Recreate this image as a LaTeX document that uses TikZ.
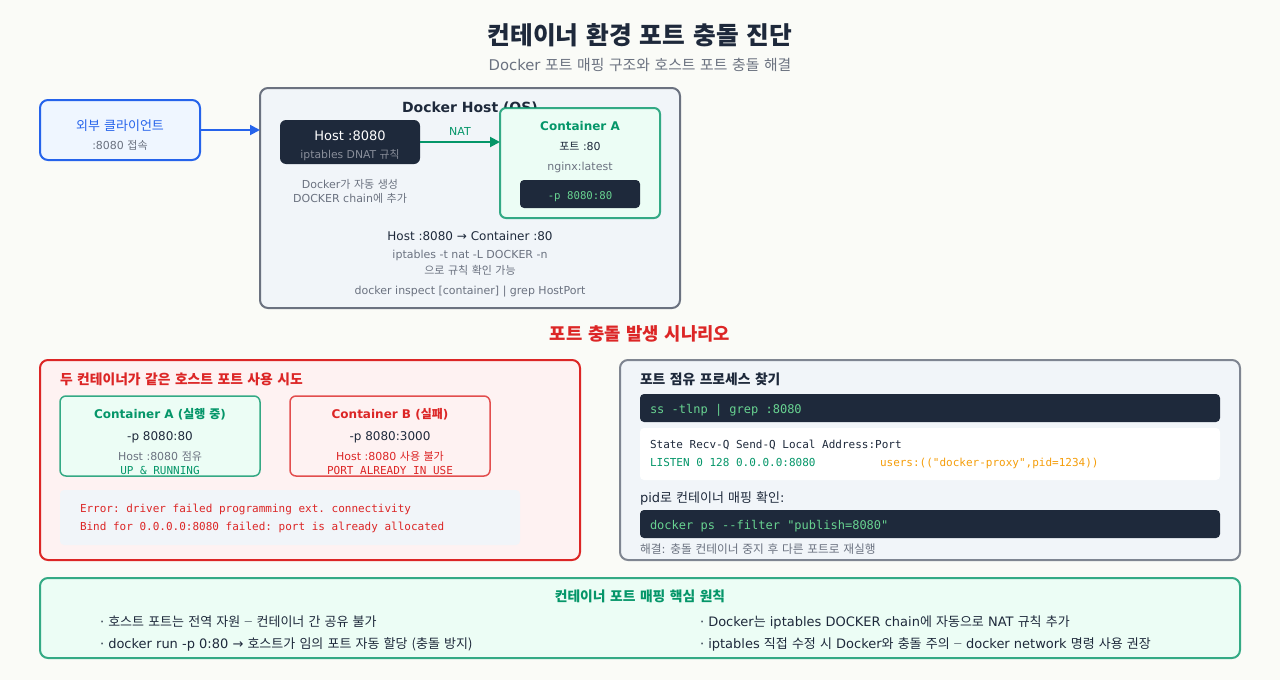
\documentclass[tikz,border=0pt]{standalone}
\usepackage{fontspec}
\usetikzlibrary{arrows.meta}
\setmainfont{DejaVu Sans}
\setmonofont{DejaVu Sans Mono}
\newfontfamily\krfont[WordSpace=1.42]{Noto Sans CJK KR}
\newcommand{\kr}[1]{{\krfont #1}}
\newcommand{\krdash}{\raisebox{1.3pt}{\krfont\fontsize{9}{9}\selectfont —}}

\definecolor{pagebg}{HTML}{FAFBF7}
\definecolor{inkdark}{HTML}{1E293B}
\definecolor{inkgray}{HTML}{6B7280}
\definecolor{slatefill}{HTML}{F1F5F9}
\definecolor{bluefill}{HTML}{EFF6FF}
\definecolor{blueline}{HTML}{2563EB}
\definecolor{greenfill}{HTML}{ECFDF5}
\definecolor{greenline}{HTML}{059669}
\definecolor{redfill}{HTML}{FEF2F2}
\definecolor{redline}{HTML}{DC2626}
\definecolor{codegreen}{HTML}{68D391}
\definecolor{codeorange}{HTML}{F59E0B}

\tikzset{
    sz/.style={font=\fontsize{#1}{#1}\selectfont},
    txt/.style={inner sep=0pt, outer sep=0pt, anchor=base, text=inkdark, sz=#1},
    txtl/.style={txt=#1, anchor=base west},
    bold/.style={font=\fontsize{#1}{#1}\selectfont\bfseries},
    code/.style={inner sep=0pt, outer sep=0pt, anchor=base west, font=\fontsize{#1}{#1}\selectfont\ttfamily},
    panel/.style={rectangle, rounded corners=8pt, line width=2pt, outer sep=0pt, inner sep=0pt},
    card/.style={panel, rounded corners=6pt, line width=1.5pt, draw opacity=0.8},
    dark/.style={rectangle, rounded corners=4pt, fill=inkdark, outer sep=0pt, inner sep=0pt},
    flow/.style={line width=2pt, -{Triangle[length=10pt,width=10pt]}},
}

\begin{document}
\begin{tikzpicture}[x=1pt, y=-1pt]
    \useasboundingbox[fill=pagebg] (0,0) rectangle (1280,680);

    % Titel
    \node[txt=24, bold=24.7] (title) at (640,44) {\kr{컨테이너 환경 포트 충돌 진단}};
    \node[txt=14.8, text=inkgray] (subtitle) at (640,70) {Docker \kr{포트 매핑 구조와 호스트 포트 충돌 해결}};

    % Client
    \node[panel, draw=blueline, fill=bluefill, minimum width=160pt, minimum height=60pt] (client) at (120,130) {};
    \node[txt=13, text=blueline] (clientname) at (120,130) {\kr{외부 클라이언트}};
    \node[txt=11, text=inkgray] (clientport) at (120,149) {:8080 \kr{접속}};

    % Docker Host
    \node[panel, draw=inkgray, fill=slatefill, minimum width=420pt, minimum height=220pt] (dockerhost) at (470,198) {};
    \node[txt=14, bold=14] (hostname) at (470,112) {Docker Host (OS)};
    \node[dark, rounded corners=6pt, minimum width=140pt, minimum height=44pt] (hostport) at (350,142) {};
    \node[txt=13, text=white] (hostporta) at (350,140) {Host :8080};
    \node[txt=10.8, text=inkgray!80!white] (hostportb) at (350,158) {iptables DNAT \kr{규칙}};
    \node[txt=11, text=inkgray] (autoa) at (350,188) {Docker\kr{가 자동 생성}};
    \node[txt=11, text=inkgray] (autob) at (350,202) {DOCKER chain\kr{에 추가}};

    % Container A
    \node[panel, rounded corners=6pt, draw=greenline, draw opacity=0.8, fill=greenfill, minimum width=160pt, minimum height=110pt] (containera) at (580,163) {};
    \node[txt=12, text=greenline, bold=12] (containeraname) at (580,130) {Container A};
    \node[txt=11] (containeraport) at (580,150) {\kr{포트} :80};
    \node[txt=11, text=inkgray] (containeraimg) at (580,170) {nginx:latest};
    \node[dark, minimum width=120pt, minimum height=28pt] (containeracmd) at (580,194) {};
    \node[code=10.7, anchor=base, text=codegreen] (containeracmdt) at (580,199) {-p 8080:80};

    % Verbindungen
    \draw[flow, blueline] (client.east) -- (client.east -| dockerhost.west);
    \draw[flow, greenline] (hostport.east) -- (hostport.east -| containera.west);
    \node[txt=11, text=greenline] (natlabel) at (460,135) {NAT};

    \node[txt=12] (mapping) at (470,240) {Host :8080 → Container :80};
    \node[txt=11, text=inkgray] (rulea) at (470,258) {iptables -t nat -L DOCKER -n};
    \node[txt=11, text=inkgray] (ruleb) at (470,274) {\kr{으로 규칙 확인 가능}};
    \node[txt=11, text=inkgray] (inspect) at (470,294) {docker inspect [container] | grep HostPort};

    % Szenario
    \node[txt=18, text=redline, bold=17.7] (scenario) at (640,340) {\kr{포트 충돌 발생 시나리오}};

    \node[panel, draw=redline, fill=redfill, minimum width=540pt, minimum height=200pt] (conflict) at (310,460) {};
    \node[txtl=13, text=redline, bold=13.8] (conflicttitle) at (60,384) {\kr{두 컨테이너가 같은 호스트 포트 사용 시도}};

    \node[card, draw=greenline, fill=greenfill, minimum width=200pt, minimum height=80pt] (runa) at (160,436) {};
    \node[txt=12, text=greenline, bold=12] (runaname) at (160,418) {Container A (\kr{실행 중})};
    \node[txt=12] (runacmd) at (160,440) {-p 8080:80};
    \node[txt=11, text=inkgray] (runanote) at (160,460) {Host :8080 \kr{점유}};
    \node[code=11, anchor=base, text=greenline] (runastate) at (160,474) {UP \& RUNNING};

    \node[card, draw=redline, fill=redfill, minimum width=200pt, minimum height=80pt] (runb) at (390,436) {};
    \node[txt=12, text=redline, bold=12] (runbname) at (390,418) {Container B (\kr{실패})};
    \node[txt=12] (runbcmd) at (390,440) {-p 8080:3000};
    \node[txt=11, text=redline] (runbnote) at (390,460) {Host :8080 \kr{사용 불가}};
    \node[code=11, anchor=base, text=redline] (runbstate) at (390,474) {PORT ALREADY IN USE};

    \node[rectangle, rounded corners=4pt, fill=slatefill, minimum width=460pt, minimum height=55pt, outer sep=0pt] (errorbox) at (290,517.5) {};
    \node[code=11, text=redline] (errora) at (80,512) {Error: driver failed programming ext. connectivity};
    \node[code=11, text=redline] (errorb) at (80,530) {Bind for 0.0.0.0:8080 failed: port is already allocated};

    % Prozess finden
    \node[panel, draw=inkgray, draw opacity=0.85, fill=slatefill, minimum width=620pt, minimum height=200pt] (finder) at (930,460) {};
    \node[txtl=13, bold=13.8] (findertitle) at (640,384) {\kr{포트 점유 프로세스 찾기}};
    \node[dark, minimum width=580pt, minimum height=28pt] (ssbox) at (930,408) {};
    \node[code=12, text=codegreen] (sscmd) at (650,413) {ss -tlnp | grep :8080};
    \node[rectangle, rounded corners=4pt, fill=white, minimum width=580pt, minimum height=52pt, outer sep=0pt] (outbox) at (930,454) {};
    \node[code=11, text=inkdark] (outhead) at (650,448) {State Recv-Q Send-Q Local Address:Port};
    \node[code=11, text=greenline] (outlisten) at (650,466) {LISTEN 0 128 0.0.0.0:8080};
    \node[code=11, text=codeorange] (outusers) at (880,466) {users:(("docker-proxy",pid=1234))};
    \node[txtl=13] (pidnote) at (640,502) {pid\kr{로 컨테이너 매핑 확인}:};
    \node[dark, minimum width=580pt, minimum height=28pt] (psbox) at (930,524) {};
    \node[code=12, text=codegreen] (pscmd) at (650,529) {docker ps --filter "publish=8080"};
    \node[txtl=11.7, text=inkgray] (fixnote) at (640,553) {\kr{해결}: \kr{충돌 컨테이너 중지 후 다른 포트로 재실행}};

    % Prinzipien
    \node[panel, draw=greenline, draw opacity=0.8, fill=greenfill, minimum width=1200pt, minimum height=80pt] (rules) at (640,618) {};
    \node[txt=13, text=greenline, bold=13.8] (rulestitle) at (640,601) {\kr{컨테이너 포트 매핑 핵심 원칙}};
    \node[txtl=13] (rulela) at (100,626) {· \kr{호스트 포트는 전역 자원 \krdash{} 컨테이너 간 공유 불가}};
    \node[txtl=13] (rulelb) at (100,648) {· docker run -p 0:80 → \kr{호스트가 임의 포트 자동 할당 (충돌 방지)}};
    \node[txtl=13] (rulera) at (700,626) {· Docker\kr{는} iptables DOCKER chain\kr{에 자동으로} NAT \kr{규칙 추가}};
    \node[txtl=13] (rulerb) at (700,648) {· iptables \kr{직접 수정 시} Docker\kr{와 충돌 주의 \krdash{}} docker network \kr{명령 사용 권장}};
\end{tikzpicture}
\end{document}
